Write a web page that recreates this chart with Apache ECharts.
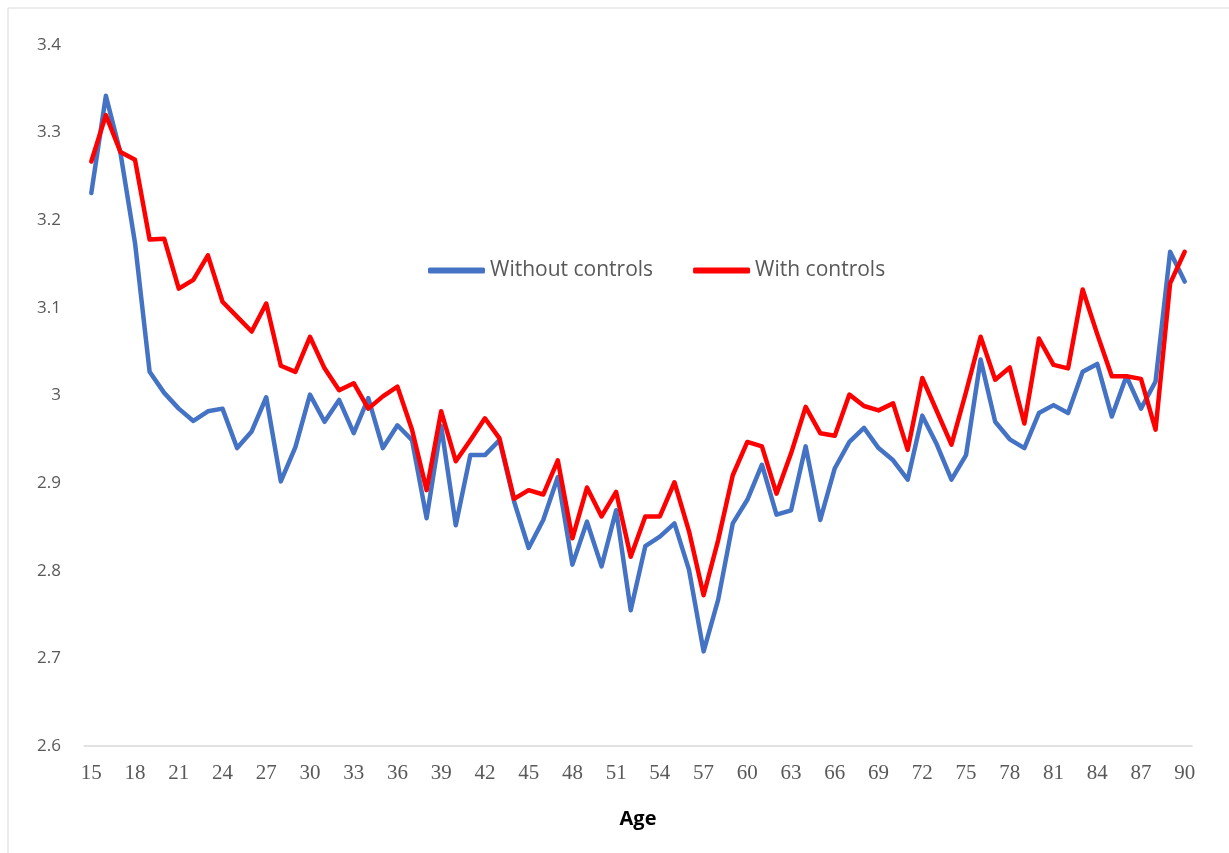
<!DOCTYPE html>
<html>
<head>
<meta charset="utf-8">
<script src="https://cdn.jsdelivr.net/npm/echarts@6/dist/echarts.min.js"></script>
<style>
  html, body { margin: 0; padding: 0; background: #fff; }
  #chart { width: 1229px; height: 853px; }
</style>
</head>
<body>
<div id="chart"></div>
<script>
const ages = [
  '15', '16', '17', '18', '19', '20', '21', '22', '23', '24', '25', '26', '27', '28', '29',
  '30', '31', '32', '33', '34', '35', '36', '37', '38', '39', '40', '41', '42', '43', '44',
  '45', '46', '47', '48', '49', '50', '51', '52', '53', '54', '55', '56', '57', '58', '59',
  '60', '61', '62', '63', '64', '65', '66', '67', '68', '69', '70', '71', '72', '73', '74',
  '75', '76', '77', '78', '79', '80', '81', '82', '83', '84', '85', '86', '87', '88', '89', '90'
]

const withoutControls = [
  3.231, 3.342, 3.277, 3.174, 3.027, 3.003, 2.985, 2.971, 2.982, 2.985, 2.940, 2.959, 2.998, 2.902, 2.941,
  3.001, 2.970, 2.995, 2.957, 2.997, 2.940, 2.966, 2.949, 2.860, 2.965, 2.852, 2.932, 2.932, 2.949, 2.879,
  2.826, 2.858, 2.907, 2.807, 2.856, 2.805, 2.869, 2.755, 2.828, 2.839, 2.854, 2.801, 2.708, 2.767, 2.854,
  2.881, 2.921, 2.864, 2.869, 2.942, 2.858, 2.917, 2.947, 2.963, 2.940, 2.926, 2.904, 2.977, 2.944, 2.904,
  2.932, 3.041, 2.970, 2.950, 2.940, 2.980, 2.989, 2.980, 3.027, 3.036, 2.976, 3.022, 2.985, 3.016, 3.164, 3.130
]

const withControls = [
  3.267, 3.320, 3.278, 3.269, 3.178, 3.179, 3.122, 3.132, 3.160, 3.107, 3.090, 3.073, 3.105, 3.034, 3.027,
  3.067, 3.031, 3.006, 3.014, 2.985, 2.999, 3.010, 2.961, 2.892, 2.982, 2.925, 2.949, 2.974, 2.951, 2.882,
  2.892, 2.887, 2.926, 2.837, 2.895, 2.862, 2.890, 2.816, 2.862, 2.862, 2.901, 2.845, 2.772, 2.835, 2.909,
  2.947, 2.942, 2.888, 2.934, 2.987, 2.957, 2.954, 3.001, 2.988, 2.983, 2.991, 2.938, 3.020, 2.982, 2.944,
  3.004, 3.067, 3.018, 3.032, 2.968, 3.065, 3.035, 3.031, 3.121, 3.070, 3.022, 3.022, 3.019, 2.961, 3.128, 3.164
]

const seriesNames = ['Without controls', 'With controls']

const chart = echarts.init(document.getElementById('chart'))

chart.setOption({
  animation: false,
  graphic: [{
    type: 'rect',
    shape: { x: 8, y: 8, width: 1240, height: 860 },
    style: { fill: 'none', stroke: '#d9d9d9', lineWidth: 1 }
  }],
  legend: {
    left: 423,
    top: 255,
    itemWidth: 57,
    itemHeight: 6,
    itemGap: 40,
    icon: 'roundRect',
    textStyle: { fontFamily: 'Open Sans', fontSize: 21, color: '#595959' },
    data: seriesNames
  },
  grid: { left: 84, right: 37, top: 45, bottom: 107 },
  xAxis: {
    type: 'category',
    data: ages,
    boundaryGap: true,
    name: 'Age',
    nameLocation: 'middle',
    nameGap: 63,
    nameTextStyle: { fontFamily: 'Open Sans', fontWeight: 'bold', fontSize: 20, color: '#000' },
    axisLine: { lineStyle: { color: '#d9d9d9', width: 1.5 } },
    axisTick: { show: false },
    axisLabel: {
      interval: 2,
      margin: 17,
      fontFamily: 'Liberation Serif',
      fontSize: 21,
      color: '#595959'
    }
  },
  yAxis: {
    type: 'value',
    min: 2.6,
    max: 3.4,
    interval: 0.1,
    axisLine: { show: false },
    axisTick: { show: false },
    splitLine: { show: false },
    axisLabel: {
      margin: 23,
      fontFamily: 'Open Sans',
      fontSize: 17,
      color: '#595959',
      formatter: v => String(+v.toFixed(1))
    }
  },
  series: [
    {
      name: seriesNames[0],
      type: 'line',
      data: withoutControls,
      symbol: 'none',
      itemStyle: { color: '#4472c4' },
      lineStyle: { color: '#4472c4', width: 4.5, cap: 'round', join: 'round' }
    },
    {
      name: seriesNames[1],
      type: 'line',
      data: withControls,
      symbol: 'none',
      itemStyle: { color: '#ff0000' },
      lineStyle: { color: '#ff0000', width: 4.5, cap: 'round', join: 'round' }
    }
  ]
})
</script>
</body>
</html>
